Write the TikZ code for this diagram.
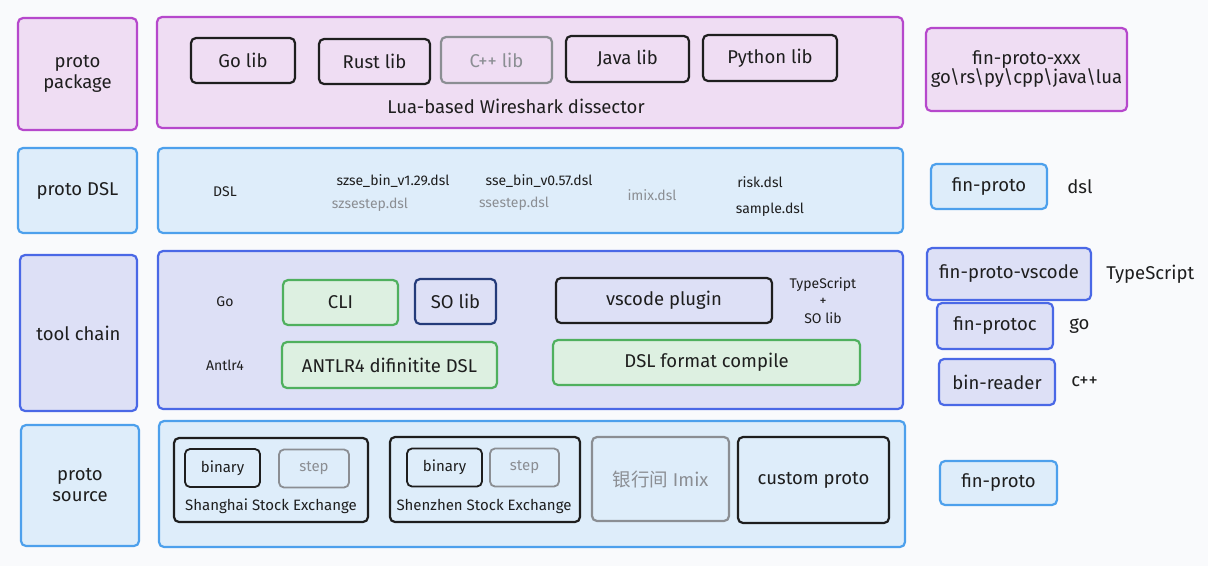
\documentclass[tikz,border=0pt]{standalone}
\usepackage{fontspec}
\setmainfont{Fira Sans}
\newfontfamily\cjk{Noto Sans CJK SC}
\usetikzlibrary{positioning}
\definecolor{pkgline}{HTML}{B648CC}
\definecolor{pkgfill}{HTML}{EFDDF3}
\definecolor{dslline}{HTML}{4DA0EC}
\definecolor{dslfill}{HTML}{DEEDFA}
\definecolor{toolline}{HTML}{4A68E6}
\definecolor{toolfill}{HTML}{DDE0F6}
\definecolor{grnline}{HTML}{4FB05E}
\definecolor{grnfill}{HTML}{DDF0E1}
\definecolor{inkc}{HTML}{1E1E1E}
\definecolor{dimc}{HTML}{8B8E93}
\definecolor{navyc}{HTML}{243B7A}
\definecolor{bgc}{HTML}{F9FAFC}

\begin{document}
\begin{tikzpicture}[x=1pt, y=-1pt,
    every node/.style={inner sep=0pt, text=inkc, align=center},
    boxed/.style={draw, rounded corners=5pt, line width=2.2pt},
    pkg/.style={boxed, draw=pkgline, fill=pkgfill},
    dsl/.style={boxed, draw=dslline, fill=dslfill},
    tool/.style={boxed, draw=toolline, fill=toolfill},
    grn/.style={boxed, draw=grnline, fill=grnfill},
    ink/.style={boxed, draw=inkc},
    dim/.style={boxed, draw=dimc, text=dimc},
    big/.style={font=\fontsize{18.5}{21}\selectfont},
    mid/.style={font=\fontsize{15}{17}\selectfont},
    small/.style={font=\fontsize{14}{17.5}\selectfont}]
  \useasboundingbox (0,0) rectangle (1208,566);
  \fill[bgc] (0,0) rectangle (1208,566);

  % proto package
  \node[pkg, big, minimum width=119, minimum height=112] (pkg) at (77.5,74) {proto\\package};
  \node[pkg, minimum width=746, minimum height=111] (pkgbox) at (530,72.5) {};
  \node[ink, big, minimum width=104, minimum height=45] (golib) at (243,60.5) {Go lib};
  \node[ink, big, minimum width=111, minimum height=45] (rustlib) at (374.5,61.5) {Rust lib};
  \node[dim, big, minimum width=111, minimum height=46] (cpplib) at (496.5,60) {C++ lib};
  \node[ink, big, minimum width=123, minimum height=46] (javalib) at (627.5,59) {Java lib};
  \node[ink, big, minimum width=134, minimum height=46] (pylib) at (770,58) {Python lib};
  \node[big] (lua) at (516,106) {Lua-based Wireshark dissector};
  \node[pkg, big, minimum width=201, minimum height=83] (finxxx) at (1026.5,69.5) {fin-proto-xxx\\[-2pt]go\textbackslash rs\textbackslash py\textbackslash cpp\textbackslash java\textbackslash lua};

  % proto DSL
  \node[dsl, big, minimum width=119, minimum height=85] (dsl) at (77.5,190.5) {proto DSL};
  \node[dsl, minimum width=745, minimum height=85] (dslbox) at (530.5,190.5) {};
  \node[small] (dslname) at (225,192) {DSL};
  \node[small] (szsebin) at (393,181) {szse\_bin\_v1.29.dsl};
  \node[small, text=dimc] (szsestep) at (370,205) {szsestep.dsl};
  \node[small] (ssebin) at (539,181) {sse\_bin\_v0.57.dsl};
  \node[small, text=dimc] (ssestep) at (514,204) {ssestep.dsl};
  \node[small, text=dimc] (imixdsl) at (652,195) {imix.dsl};
  \node[small] (risk) at (760,182) {risk.dsl};
  \node[small] (sample) at (770,210) {sample.dsl};
  \node[dsl, big, minimum width=116, minimum height=45] (findsl) at (989,186.5) {fin-proto};
  \node[big, right=19pt of findsl] (dsltag) {dsl};

  % tool chain
  \node[tool, big, minimum width=117, minimum height=156] (tool) at (78.5,333) {tool chain};
  \node[tool, minimum width=745, minimum height=158] (toolbox) at (530.5,330) {};
  \node[small] (golang) at (225,302) {Go};
  \node[small] (antlrlang) at (225,365) {Antlr4};
  \node[grn, big, minimum width=115, minimum height=45] (cli) at (340.5,302.5) {CLI};
  \node[boxed, draw=navyc, big, minimum width=81, minimum height=45] (solib) at (455.5,301.5) {SO lib};
  \node[ink, big, minimum width=216, minimum height=45] (vscode) at (664,300.5) {vscode plugin};
  \node[small] (tsso) at (823,300.5) {TypeScript\\+\\SO lib};
  \node[grn, big, minimum width=215, minimum height=46] (antlr) at (389.5,365) {ANTLR4 difinitite DSL};
  \node[grn, big, minimum width=307, minimum height=45] (fmt) at (706.5,362.5) {DSL format compile};
  \node[tool, big, minimum width=164, minimum height=52] (finvsc) at (1009,274) {fin-proto-vscode};
  \node[big, right=14pt of finvsc] (tstag) {TypeScript};
  \node[tool, big, minimum width=116, minimum height=46] (protoc) at (995,326) {fin-protoc};
  \node[big, right=15pt of protoc] (gotag) {go};
  \node[tool, big, minimum width=116, minimum height=46] (reader) at (997,382) {bin-reader};
  \node[big, right=15pt of reader] (cpptag) {c++};

  % proto source
  \node[dsl, big, minimum width=118, minimum height=121] (src) at (80,485.5) {proto\\source};
  \node[dsl, minimum width=746, minimum height=126] (srcbox) at (532,484) {};
  \node[ink, minimum width=194, minimum height=84] (sh) at (271,480) {};
  \node[ink, line width=1.8pt, mid, minimum width=75, minimum height=38] (shbin) at (222.5,468) {binary};
  \node[dim, line width=1.8pt, mid, minimum width=70, minimum height=38] (shstep) at (314,468.5) {step};
  \node[mid] (shlab) at (271,506) {Shanghai Stock Exchange};
  \node[ink, minimum width=190, minimum height=85] (sz) at (485,479.5) {};
  \node[ink, line width=1.8pt, mid, minimum width=75, minimum height=38] (szbin) at (444.5,467.5) {binary};
  \node[dim, line width=1.8pt, mid, minimum width=69, minimum height=38] (szstep) at (524.5,467.5) {step};
  \node[mid] (szlab) at (484,506) {Shenzhen Stock Exchange};
  \node[dim, big, minimum width=137, minimum height=84] (imix) at (660.5,479) {{\cjk 银行间} Imix};
  \node[ink, big, minimum width=151, minimum height=86] (custom) at (813.5,480) {custom proto};
  \node[dsl, big, minimum width=117, minimum height=44] (finsrc) at (998.5,483) {fin-proto};
\end{tikzpicture}
\end{document}
